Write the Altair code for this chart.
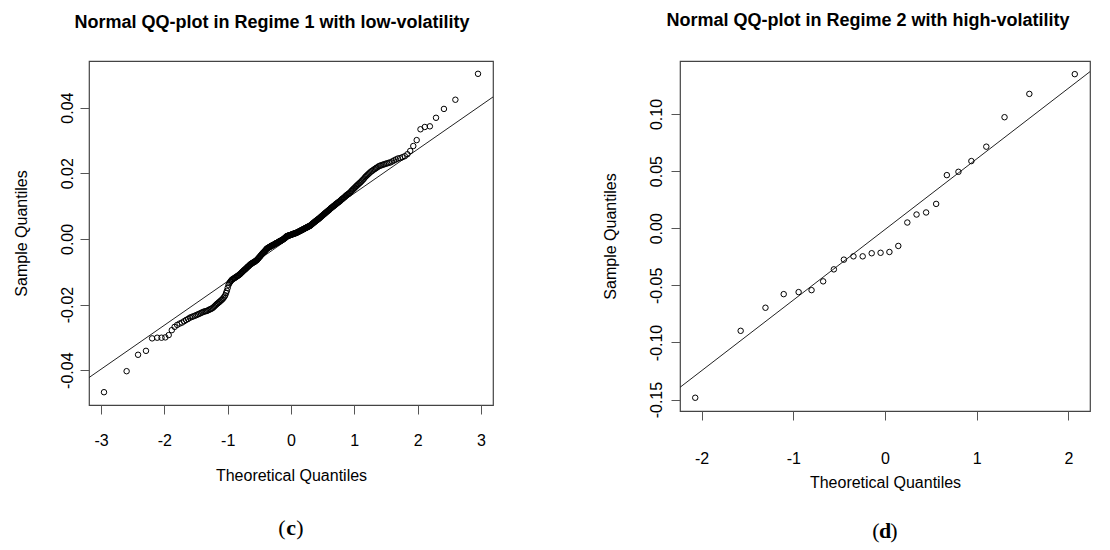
import altair as alt
import pandas as pd

# ---------------- data ----------------
titles = ["Normal QQ-plot in Regime 1 with low-volatility",
          "Normal QQ-plot in Regime 2 with high-volatility"]
captions = ["c", "d"]
x_title = "Theoretical Quantiles"
y_title = "Sample Quantiles"

# sorted sample quantiles, regime 1 (low volatility)
regime1_sample = [
    -0.0467, -0.0403, -0.0353, -0.0341, -0.0303, -0.0301, -0.0301, -0.0300, -0.0293, -0.0278,
    -0.0268, -0.0262, -0.0258, -0.0255, -0.0251, -0.0247, -0.0244, -0.0240, -0.0238, -0.0236,
    -0.0234, -0.0232, -0.0230, -0.0228, -0.0226, -0.0224, -0.0222, -0.0221, -0.0220, -0.0219,
    -0.0217, -0.0215, -0.0214, -0.0212, -0.0210, -0.0207, -0.0204, -0.0201, -0.0198, -0.0196,
    -0.0193, -0.0191, -0.0188, -0.0186, -0.0183, -0.0180, -0.0176, -0.0172, -0.0165, -0.0158,
    -0.0149, -0.0140, -0.0135, -0.0131, -0.0128, -0.0125, -0.0123, -0.0122, -0.0120, -0.0119,
    -0.0117, -0.0116, -0.0114, -0.0113, -0.0111, -0.0110, -0.0108, -0.0106, -0.0104, -0.0102,
    -0.0100, -0.0098, -0.0096, -0.0094, -0.0093, -0.0091, -0.0089, -0.0087, -0.0085, -0.0084,
    -0.0082, -0.0080, -0.0078, -0.0077, -0.0076, -0.0074, -0.0073, -0.0072, -0.0071, -0.0070,
    -0.0069, -0.0067, -0.0066, -0.0065, -0.0063, -0.0061, -0.0059, -0.0057, -0.0055, -0.0053,
    -0.0051, -0.0049, -0.0047, -0.0045, -0.0043, -0.0041, -0.0040, -0.0038, -0.0036, -0.0034,
    -0.0032, -0.0030, -0.0029, -0.0028, -0.0027, -0.0026, -0.0025, -0.0024, -0.0023, -0.0022,
    -0.0021, -0.0020, -0.0020, -0.0019, -0.0018, -0.0017, -0.0016, -0.0015, -0.0014, -0.0013,
    -0.0013, -0.0012, -0.0011, -0.0010, -0.0009, -0.0008, -0.0007, -0.0006, -0.0006, -0.0005,
    -0.0004, -0.0003, -0.0002, -0.0001, 0.0000, 0.0001, 0.0003, 0.0004, 0.0005, 0.0007,
    0.0008, 0.0009, 0.0009, 0.0010, 0.0010, 0.0011, 0.0011, 0.0012, 0.0012, 0.0013,
    0.0013, 0.0014, 0.0015, 0.0015, 0.0016, 0.0016, 0.0017, 0.0017, 0.0018, 0.0018,
    0.0019, 0.0020, 0.0021, 0.0021, 0.0022, 0.0023, 0.0024, 0.0025, 0.0025, 0.0026,
    0.0027, 0.0028, 0.0029, 0.0029, 0.0030, 0.0031, 0.0032, 0.0033, 0.0034, 0.0034,
    0.0035, 0.0036, 0.0037, 0.0038, 0.0038, 0.0039, 0.0040, 0.0041, 0.0043, 0.0044,
    0.0045, 0.0047, 0.0048, 0.0049, 0.0051, 0.0052, 0.0053, 0.0055, 0.0056, 0.0057,
    0.0058, 0.0060, 0.0061, 0.0062, 0.0064, 0.0065, 0.0067, 0.0068, 0.0070, 0.0071,
    0.0073, 0.0074, 0.0076, 0.0077, 0.0079, 0.0080, 0.0082, 0.0083, 0.0085, 0.0086,
    0.0088, 0.0089, 0.0091, 0.0093, 0.0094, 0.0096, 0.0097, 0.0099, 0.0100, 0.0102,
    0.0103, 0.0105, 0.0107, 0.0108, 0.0110, 0.0111, 0.0113, 0.0114, 0.0116, 0.0118,
    0.0120, 0.0122, 0.0123, 0.0125, 0.0127, 0.0129, 0.0131, 0.0133, 0.0135, 0.0136,
    0.0138, 0.0140, 0.0142, 0.0145, 0.0147, 0.0150, 0.0152, 0.0155, 0.0157, 0.0160,
    0.0162, 0.0165, 0.0167, 0.0170, 0.0172, 0.0175, 0.0178, 0.0181, 0.0184, 0.0188,
    0.0191, 0.0194, 0.0197, 0.0200, 0.0203, 0.0206, 0.0208, 0.0211, 0.0213, 0.0216,
    0.0218, 0.0221, 0.0223, 0.0224, 0.0226, 0.0227, 0.0229, 0.0230, 0.0232, 0.0233,
    0.0236, 0.0239, 0.0242, 0.0245, 0.0246, 0.0249, 0.0252, 0.0258, 0.0268, 0.0283,
    0.0301, 0.0334, 0.0341, 0.0343, 0.0369, 0.0396, 0.0424, 0.0503,
]

# sorted sample quantiles, regime 2 (high volatility)
regime2_sample = [
    -0.1484, -0.0898, -0.0696, -0.0577, -0.0559, -0.0542, -0.0465, -0.0360, -0.0275, -0.0246,
    -0.0246, -0.0219, -0.0215, -0.0208, -0.0155, 0.0050, 0.0120, 0.0138, 0.0213, 0.0465,
    0.0494, 0.0588, 0.0714, 0.0972, 0.1176, 0.1349,
]

# reference (qqline) intercept and slope
regime1_qqline = [0.0005, 0.0134]
regime2_qqline = [-0.0011, 0.0618]

# axis ticks and ranges
x_ticks1 = [-3, -2, -1, 0, 1, 2, 3]
y_ticks1 = [-0.04, -0.02, 0.0, 0.02, 0.04]
x_ticks2 = [-2, -1, 0, 1, 2]
y_ticks2 = [-0.15, -0.10, -0.05, 0.0, 0.05, 0.10]
x_domain1 = [-3.19, 3.19]
y_domain1 = [-0.0506, 0.0542]
x_domain2 = [-2.236, 2.236]
y_domain2 = [-0.1600, 0.1464]

FONT = "Liberation Sans"


def panel(sample, qqline, title, xt, yt, xd, yd, cap, w, h, title_dx, title_off,
          x_label_pad, x_title_pad, y_label_pad, y_title_pad, cap_off):
    n = len(sample)
    x_enc = alt.X("theo:Q",
                  scale=alt.Scale(domain=xd, nice=False, zero=False),
                  axis=alt.Axis(values=xt, title=x_title,
                                labelExpr="(datum.value < 0 ? '-' : '') + format(abs(datum.value), 'd')",
                                labelPadding=x_label_pad, titlePadding=x_title_pad,
                                labelFlush=False))
    y_enc = alt.Y("sample:Q",
                  scale=alt.Scale(domain=yd, nice=False, zero=False),
                  axis=alt.Axis(values=yt, title=y_title,
                                labelExpr="(datum.value < 0 ? '-' : '') + format(abs(datum.value), '.2f')",
                                labelAngle=-90, labelPadding=y_label_pad,
                                titlePadding=y_title_pad, labelFlush=False))

    pts = (alt.Chart(pd.DataFrame({"sample": sample}))
           .transform_window(rank="row_number()", sort=[alt.SortField("sample")])
           .transform_calculate(theo=f"quantileNormal((datum.rank - 0.5) / {n})")
           .mark_point(shape="circle", filled=False, color="black",
                       size=30, strokeWidth=1, opacity=1)
           .encode(x=x_enc, y=y_enc))

    line_df = pd.DataFrame({"theo": xd,
                            "sample": [qqline[0] + qqline[1] * v for v in xd]})
    ln = (alt.Chart(line_df)
          .mark_line(color="#222222", strokeWidth=1, clip=True)
          .encode(x=x_enc, y=y_enc))

    cap_df = pd.DataFrame({"t": ["(", cap, ")"], "dx": [-9, 0, 9],
                           "wt": ["normal", "bold", "normal"]})
    caps = []
    for i in range(3):
        caps.append(
            alt.Chart(cap_df.iloc[[i]])
            .mark_text(font="Liberation Serif", fontSize=22,
                       fontWeight=cap_df["wt"].iloc[i], color="black",
                       baseline="middle", align="center",
                       dx=int(cap_df["dx"].iloc[i]))
            .encode(x=alt.value(w / 2), y=alt.value(h + cap_off), text="t:N"))

    return alt.layer(ln, pts, *caps).properties(
        width=w, height=h,
        title=alt.Title(title, font=FONT, fontSize=18, fontWeight="bold",
                        color="black", anchor="middle", frame="group",
                        dx=title_dx, offset=title_off),
    )


left = panel(regime1_sample, regime1_qqline, titles[0], x_ticks1, y_ticks1,
             x_domain1, y_domain1, captions[0], 404, 344, -19, 29,
             18, 19, 5, 30, 123)
right = panel(regime2_sample, regime2_qqline, titles[1], x_ticks2, y_ticks2,
              x_domain2, y_domain2, captions[1], 410, 350, -17, 31,
              30, 8, 7, 30, 120)

chart = (alt.hconcat(left, right, spacing=107)
         .properties(padding={"left": 4, "top": 3, "right": 4, "bottom": 0},
                     background="white")
         .configure_view(stroke="#444444", strokeWidth=1.2)
         .configure_axis(labelFont=FONT, labelFontSize=16, labelColor="black",
                         titleFont=FONT, titleFontSize=16, titleFontWeight="normal",
                         titleColor="black", tickColor="#555555", tickSize=9,
                         tickWidth=1, domain=False, grid=False))

chart.save("out.html", embed_options={"renderer": "svg", "actions": False})
